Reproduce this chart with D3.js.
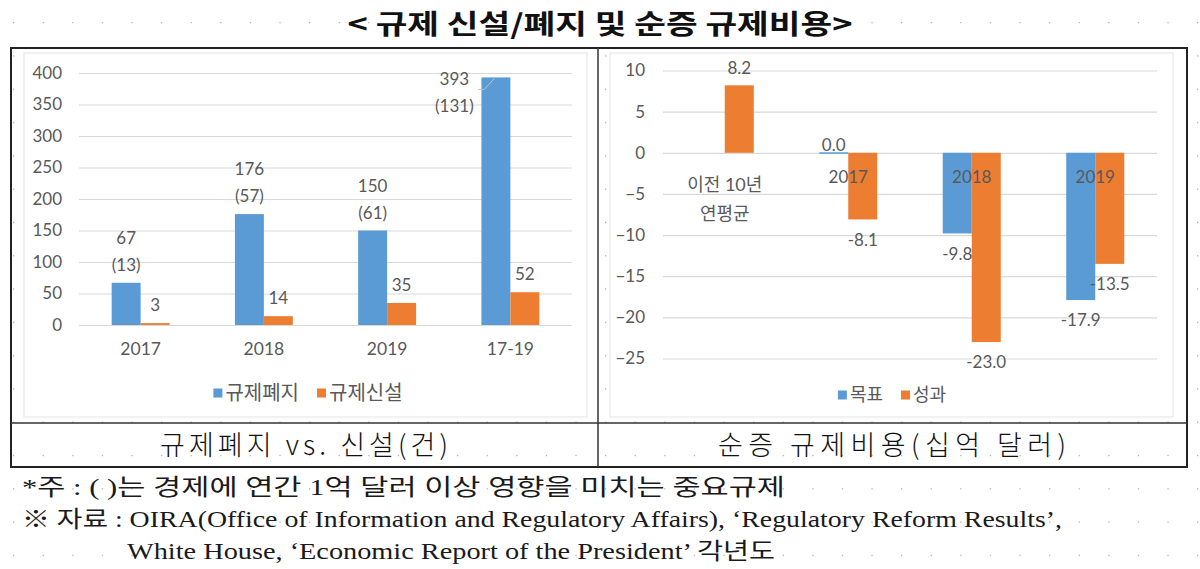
<!DOCTYPE html>
<html><head><meta charset="utf-8">
<script src="https://cdn.jsdelivr.net/npm/d3@7"></script>
<style>body{margin:0;background:#fff}svg{display:block}</style>
</head><body><svg id="c" width="1200" height="569"></svg>
<script>
// ---------- data ----------
const titleText = "< 규제 신설/폐지 및 순증 규제비용>";
const leftCategories = ["2017", "2018", "2019", "17-19"];
const abolishedValues = [67, 176, 150, 393];
const majorAbolishedValues = [13, 57, 61, 131];
const newValues = [3, 14, 35, 52];
const leftTicks = [0, 50, 100, 150, 200, 250, 300, 350, 400];
const leftSeries = ["규제폐지", "규제신설"];

const rightCategories = ["이전 10년\n연평균", "2017", "2018", "2019"];
const targetValues = [null, 0.0, -9.8, -17.9];
const resultValues = [8.2, -8.1, -23.0, -13.5];
const rightTicks = [10, 5, 0, -5, -10, -15, -20, -25];
const rightSeries = ["목표", "성과"];

const captions = ["규제폐지 vs. 신설(건)", "순증 규제비용(십억 달러)"];
const notes = [
  "*주 : ( )는 경제에 연간 1억 달러 이상 영향을 미치는 중요규제",
  "※ 자료 : OIRA(Office of Information and Regulatory Affairs), ‘Regulatory Reform Results’,",
  "White House, ‘Economic Report of the President’ 각년도"
];

// ---------- styles ----------
const BLUE = "#5B9BD5", ORANGE = "#ED7D31", GRID = "#D9D9D9", TXT = "#595959";
const NUM_FONT = "Lato, 'Noto Sans CJK KR', sans-serif";
const KR_FONT = "'Noto Sans CJK KR', sans-serif";

const svg = d3.select("#c");

// background dotted grid (word-processor page grid)
const dotX = d3.range(13, 1200, 29.6), dotY = d3.range(22, 569, 33.3);
const dots = svg.append("g").attr("fill", "#b5b5b5");
dotY.forEach(y => dotX.forEach(x => dots.append("rect").attr("x", x).attr("y", y).attr("width", 1.3).attr("height", 1.3)));

// title
svg.append("text").attr("x", 600).attr("y", 24).attr("dy", "0.36em")
  .attr("text-anchor", "middle").attr("font-family", KR_FONT).attr("font-weight", 700)
  .attr("font-size", 27).attr("fill", "#111").attr("textLength", 505).attr("lengthAdjust", "spacingAndGlyphs")
  .text(titleText);

// chart areas
[[24, 587], [610, 1173]].forEach(([a, b]) => {
  svg.append("rect").attr("x", a).attr("y", 53).attr("width", b - a).attr("height", 364)
    .attr("fill", "#fff").attr("stroke", "#e3e3e3").attr("stroke-width", 1);
});

// frame
svg.append("rect").attr("x", 11).attr("y", 48).attr("width", 1176).attr("height", 419)
  .attr("fill", "none").attr("stroke", "#222").attr("stroke-width", 2);
svg.append("line").attr("x1", 11).attr("x2", 1187).attr("y1", 423).attr("y2", 423).attr("stroke", "#333").attr("stroke-width", 1.5);
svg.append("line").attr("x1", 598).attr("x2", 598).attr("y1", 48).attr("y2", 467).attr("stroke", "#333").attr("stroke-width", 1.5);

// captions
[[304, 288], [892, 348]].forEach(([cx, len], i) => {
  svg.append("text").attr("x", cx).attr("y", 445).attr("dy", "0.36em").attr("text-anchor", "middle")
    .attr("font-family", KR_FONT).attr("font-weight", 300).attr("font-size", 27).attr("fill", "#111")
    .attr("textLength", len).attr("lengthAdjust", "spacing").text(captions[i]);
});

// notes
[[22, 487, 763], [22, 519, 1040], [127, 551, 648]].forEach(([x, y, len], i) => {
  svg.append("text").attr("x", x).attr("y", y).attr("dy", "0.36em")
    .attr("font-family", "'Liberation Serif', 'Noto Sans CJK KR', serif").attr("font-size", 23)
    .attr("fill", "#1a1a1a").attr("textLength", len).attr("lengthAdjust", "spacingAndGlyphs").text(notes[i]);
});

// ---------- helpers ----------
function gridAndAxis(y, ticks, x0, x1, labelX) {
  const g = svg.append("g");
  g.append("g").attr("transform", `translate(${x0},0)`)
    .call(d3.axisLeft(y).tickValues(ticks).tickSize(-(x1 - x0)).tickFormat(""))
    .call(s => s.select(".domain").remove())
    .call(s => s.selectAll("line").attr("stroke", GRID).attr("stroke-width", 1.2));
  g.append("g").attr("transform", `translate(${labelX},0)`)
    .call(d3.axisLeft(y).tickValues(ticks).tickSize(0).tickPadding(0))
    .call(s => s.select(".domain").remove())
    .call(s => s.selectAll("text").attr("font-family", NUM_FONT).attr("font-size", 17).attr("fill", TXT));
}
function legend(cx, cy, names, colors, fs) {
  const g = svg.append("g");
  let x = 0;
  names.forEach((n, i) => {
    const it = g.append("g");
    it.append("rect").attr("x", 0).attr("y", -4.5).attr("width", 9).attr("height", 9).attr("fill", colors[i]);
    const t = it.append("text").attr("x", 12).attr("dy", "0.36em").attr("font-family", KR_FONT)
      .attr("font-size", fs).attr("fill", TXT).text(n);
    const w = 12 + t.node().getComputedTextLength();
    it.attr("transform", `translate(${x},0)`);
    x += w + 18;
  });
  const total = x - 18;
  g.attr("transform", `translate(${cx - total / 2},${cy})`);
}
function label(x, y, txt, anchor = "middle") {
  svg.append("text").attr("x", x).attr("y", y).attr("dy", "0.36em").attr("text-anchor", anchor)
    .attr("font-family", NUM_FONT).attr("font-size", 17).attr("fill", TXT).text(txt);
}

// ---------- left chart ----------
const xL = d3.scaleBand().domain(leftCategories).range([79, 572]).paddingInner(0.53).paddingOuter(0.265);
const sL = d3.scaleBand().domain(leftSeries).range([0, xL.bandwidth()]);
const yL = d3.scaleLinear().domain([0, 400]).range([325, 73]);
gridAndAxis(yL, leftTicks, 79, 572, 62);

const leftData = leftCategories.map((c, i) => ({ c, a: abolishedValues[i], m: majorAbolishedValues[i], n: newValues[i] }));
svg.append("g").selectAll("rect").data(leftData).join("rect")
  .attr("x", d => xL(d.c) + sL(leftSeries[0])).attr("y", d => yL(d.a))
  .attr("width", sL.bandwidth()).attr("height", d => yL(0) - yL(d.a)).attr("fill", BLUE);
svg.append("g").selectAll("rect").data(leftData).join("rect")
  .attr("x", d => xL(d.c) + sL(leftSeries[1])).attr("y", d => yL(d.n))
  .attr("width", sL.bandwidth()).attr("height", d => yL(0) - yL(d.n)).attr("fill", ORANGE);

leftData.forEach(d => {
  const bx = xL(d.c) + sL(leftSeries[0]);
  const top = yL(d.a);
  if (top - 55 < yL(400)) {
    const lx = bx - 27;
    label(lx, top + 1, d.a);
    label(lx, top + 28, `(${d.m})`);
    svg.append("polyline").attr("fill", "none").attr("stroke", "#bfbfbf").attr("stroke-width", 1)
      .attr("points", `${bx - 3},${top + 12} ${bx + 3},${top + 12} ${bx + 13},${top + 1}`);
  } else {
    const cx = bx + sL.bandwidth() / 2;
    label(cx, top - 45, d.a);
    label(cx, top - 18, `(${d.m})`);
  }
  label(xL(d.c) + sL(leftSeries[1]) + sL.bandwidth() / 2, yL(d.n) - 18, d.n);
});

svg.append("g").attr("transform", `translate(0,${yL(0)})`)
  .call(d3.axisBottom(xL).tickSize(0).tickPadding(18))
  .call(s => s.select(".domain").remove())
  .call(s => s.selectAll("text").attr("font-family", NUM_FONT).attr("font-size", 17.5).attr("fill", TXT));

legend(308, 393, leftSeries, [BLUE, ORANGE], 20);

// ---------- right chart ----------
const xR = d3.scaleBand().domain(rightCategories).range([663, 1157]).paddingInner(0.53).paddingOuter(0.265);
const sR = d3.scaleBand().domain(rightSeries).range([0, xR.bandwidth()]);
const yR = d3.scaleLinear().domain([-25, 10]).range([358.5, 70.5]);
gridAndAxis(yR, rightTicks, 663, 1157, 645);

const rightData = [];
rightCategories.forEach((c, i) => {
  if (targetValues[i] !== null) rightData.push({ c, s: rightSeries[0], v: targetValues[i], col: BLUE });
  if (resultValues[i] !== null) rightData.push({ c, s: rightSeries[1], v: resultValues[i], col: ORANGE });
});
svg.append("g").selectAll("rect").data(rightData).join("rect")
  .attr("x", d => xR(d.c) + sR(d.s)).attr("width", sR.bandwidth())
  .attr("y", d => d.v === 0 ? yR(0) - 0.5 : Math.min(yR(d.v), yR(0)))
  .attr("height", d => d.v === 0 ? 1.5 : Math.abs(yR(d.v) - yR(0)))
  .attr("fill", d => d.col);

rightCategories.forEach(c => {
  const lines = c.split("\n");
  const cx = xR(c) + xR.bandwidth() / 2;
  lines.forEach((ln, j) => {
    const yy = lines.length > 1 ? yR(0) + 32 + j * 29 : yR(0) + 24;
    svg.append("text").attr("x", cx).attr("y", yy).attr("dy", "0.36em").attr("text-anchor", "middle")
      .attr("font-family", NUM_FONT).attr("font-size", /[가-힣]/.test(ln) ? 18 : 17).attr("fill", TXT).text(ln);
  });
});

rightData.forEach(d => {
  const cx = xR(d.c) + sR(d.s) + sR.bandwidth() / 2;
  const ly = d.v > 0 ? yR(d.v) - 17 : d.v === 0 ? yR(0) - 8 : yR(d.v) + 20;
  label(cx, ly, d.v.toFixed(1));
});

legend(892, 395, rightSeries, [BLUE, ORANGE], 18);
</script></body></html>
